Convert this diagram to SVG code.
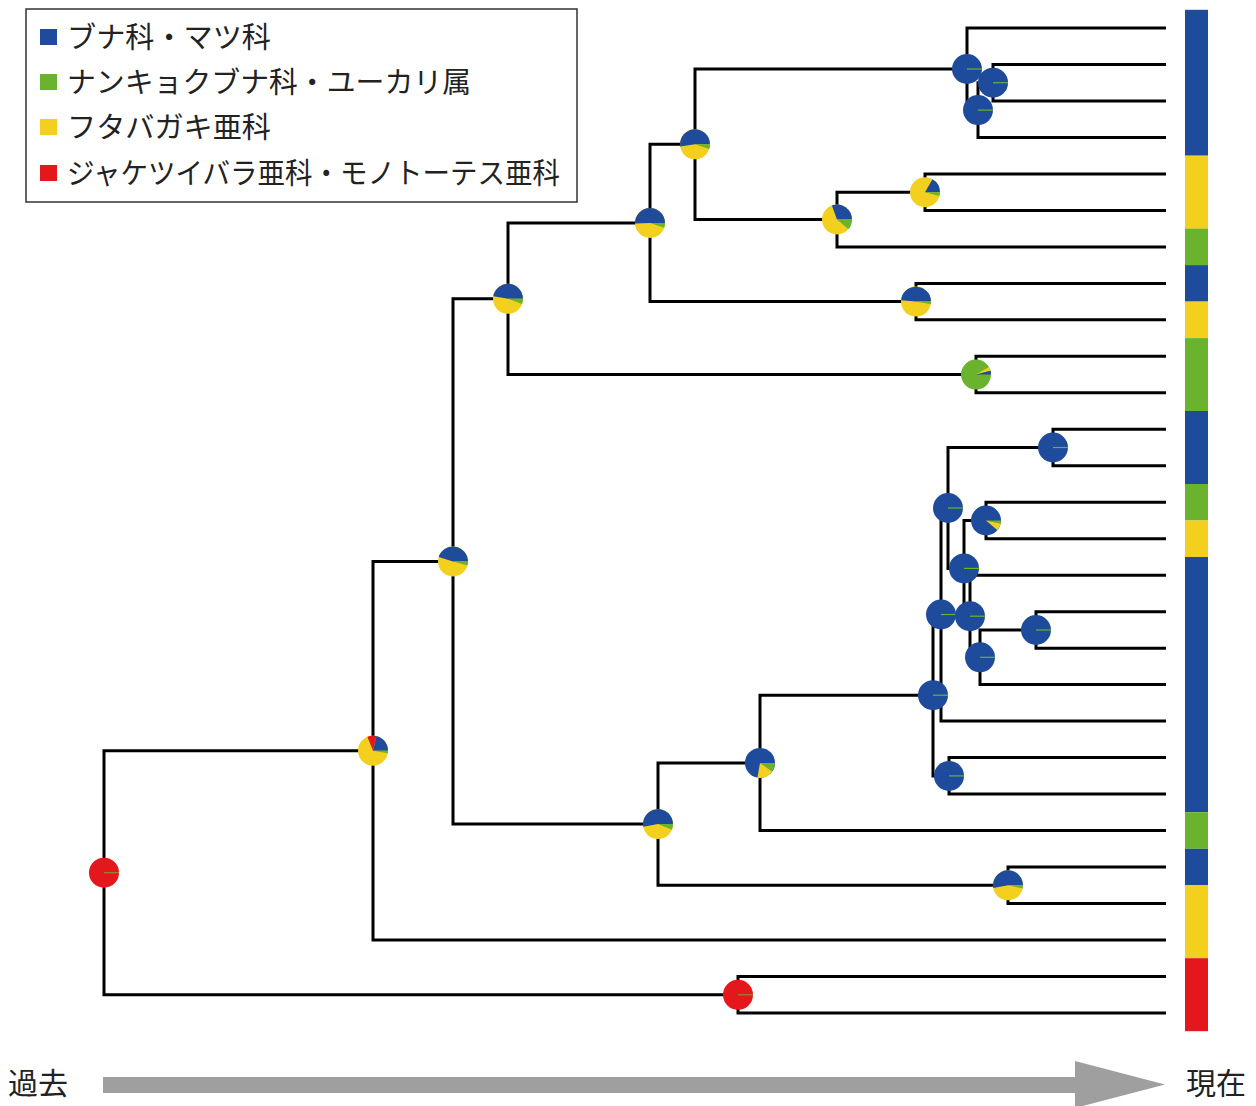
<svg xmlns="http://www.w3.org/2000/svg" xmlns:xlink="http://www.w3.org/1999/xlink" width="1256" height="1106" viewBox="0 0 1256 1106">
<style>
.br{fill:none;stroke:#000;stroke-width:3;stroke-linejoin:miter}
.lg{font-family:"Noto Sans CJK JP","Noto Sans",sans-serif;font-size:29px;fill:#222}
.ax{font-family:"Noto Sans CJK JP","Noto Sans",sans-serif;font-size:30px;fill:#222}
.b{fill:#1f4b9d}.g{fill:#6ab42d}.y{fill:#f3cf1e}.r{fill:#e3171c}
</style>
<defs>
<g id="pb"><circle r="15" class="b"/><line x1="0" y1="0" x2="15" y2="0" stroke="#6ab42d" stroke-width="1.2"/></g>
<g id="pr"><circle r="15" class="r"/><line x1="0" y1="0" x2="15" y2="0" stroke="#8c8f2a" stroke-width="1.2"/></g>
</defs>
<rect width="1256" height="1106" fill="#fff"/>

<g id="legend">
<rect x="26" y="9" width="551" height="193" fill="#fff" stroke="#333" stroke-width="1.5"/>
<rect x="40" y="29" width="17" height="16" class="b"/>
<text x="67" y="48" class="lg" textLength="204" lengthAdjust="spacingAndGlyphs">ブナ科・マツ科</text>
<rect x="40" y="74" width="17" height="16" class="g"/>
<text x="67" y="93" class="lg" textLength="404" lengthAdjust="spacingAndGlyphs">ナンキョクブナ科・ユーカリ属</text>
<rect x="40" y="119" width="17" height="16" class="y"/>
<text x="67" y="138" class="lg" textLength="204" lengthAdjust="spacingAndGlyphs">フタバガキ亜科</text>
<rect x="40" y="165" width="17" height="16" class="r"/>
<text x="67" y="184" class="lg" textLength="493" lengthAdjust="spacingAndGlyphs">ジャケツイバラ亜科・モノトーテス亜科</text>
</g>

<g id="colorbar">
<rect x="1185" y="9.8" width="23" height="145.9" class="b"/>
<rect x="1185" y="155.7" width="23" height="73" class="y"/>
<rect x="1185" y="228.6" width="23" height="36.5" class="g"/>
<rect x="1185" y="265.1" width="23" height="36.5" class="b"/>
<rect x="1185" y="301.6" width="23" height="36.5" class="y"/>
<rect x="1185" y="338.1" width="23" height="73" class="g"/>
<rect x="1185" y="411" width="23" height="73" class="b"/>
<rect x="1185" y="484" width="23" height="36.5" class="g"/>
<rect x="1185" y="520.5" width="23" height="36.5" class="y"/>
<rect x="1185" y="557" width="23" height="255.3" class="b"/>
<rect x="1185" y="812.3" width="23" height="36.5" class="g"/>
<rect x="1185" y="848.8" width="23" height="36.5" class="b"/>
<rect x="1185" y="885.3" width="23" height="73" class="y"/>
<rect x="1185" y="958.2" width="23" height="73" class="r"/>
</g>

<g id="connectors">
<path class="br" d="M1166,64.5 H993 V101 H1166"/>
<path class="br" d="M993,82.7 H978 V137.4 H1166"/>
<path class="br" d="M1166,28 H967 V110.1 H978"/>
<path class="br" d="M1166,173.9 H925 V210.4 H1166"/>
<path class="br" d="M925,192.2 H837 V246.9 H1166"/>
<path class="br" d="M967,69 H695 V219.5 H837"/>
<path class="br" d="M1166,283.4 H916 V319.8 H1166"/>
<path class="br" d="M695,144.3 H650 V301.6 H916"/>
<path class="br" d="M1166,356.3 H976 V392.8 H1166"/>
<path class="br" d="M650,223 H508 V374.6 H976"/>
<path class="br" d="M1166,429.3 H1053 V465.8 H1166"/>
<path class="br" d="M1166,502.2 H986 V538.7 H1166"/>
<path class="br" d="M1166,611.7 H1036 V648.2 H1166"/>
<path class="br" d="M1036,630 H980 V684.6 H1166"/>
<path class="br" d="M1166,575.2 H970 V657.3 H980"/>
<path class="br" d="M986,520.5 H964 V616.2 H970"/>
<path class="br" d="M1053,447.5 H948 V568.4 H964"/>
<path class="br" d="M948,508 H941 V721.1 H1166"/>
<path class="br" d="M1166,757.6 H949 V794.1 H1166"/>
<path class="br" d="M941,614.5 H933 V775.9 H949"/>
<path class="br" d="M933,695.2 H760 V830.6 H1166"/>
<path class="br" d="M1166,867 H1008 V903.5 H1166"/>
<path class="br" d="M760,762.9 H658 V885.3 H1008"/>
<path class="br" d="M508,298.8 H453 V824.1 H658"/>
<path class="br" d="M453,561.5 H373 V940 H1166"/>
<path class="br" d="M1166,976.5 H738 V1013 H1166"/>
<path class="br" d="M373,750.7 H104 V994.8 H738"/>
</g>

<g id="node-root" transform="translate(104,872.7)"><use xlink:href="#pr" href="#pr"/></g>
<g id="node-z" transform="translate(738,994.8)"><use xlink:href="#pr" href="#pr"/></g>
<g id="node-y" transform="translate(373,750.7)">
<circle r="15" class="y"/>
<path class="r" d="M0,0 L-5.62,-13.91 A15,15 0 0 1 3.37,-14.62 Z"/>
<path class="b" d="M0,0 L3.37,-14.62 A15,15 0 0 1 15,0 Z"/>
<path class="g" d="M0,0 L15,0 A15,15 0 0 1 14.77,2.6 Z"/>
</g>
<g id="node-x" transform="translate(453,561.5)">
<circle r="15" class="y"/>
<path class="b" d="M0,0 L-14.34,-4.39 A15,15 0 0 1 15,0 Z"/>
<path class="g" d="M0,0 L15,0 A15,15 0 0 1 14.49,3.88 Z"/>
</g>
<g id="node-t" transform="translate(508,298.8)">
<circle r="15" class="y"/>
<path class="b" d="M0,0 L-14.77,-2.6 A15,15 0 0 1 15,0 Z"/>
<path class="g" d="M0,0 L15,0 A15,15 0 0 1 14.1,5.13 Z"/>
</g>
<g id="node-r" transform="translate(650,223)">
<circle r="15" class="y"/>
<path class="b" d="M0,0 L-14.99,0.52 A15,15 0 1 1 15,0 Z"/>
<path class="g" d="M0,0 L15,0 A15,15 0 0 1 14.27,4.64 Z"/>
</g>
<g id="node-p" transform="translate(695,144.3)">
<circle r="15" class="y"/>
<path class="b" d="M0,0 L-14.85,2.09 A15,15 0 1 1 15,0 Z"/>
<path class="g" d="M0,0 L15,0 A15,15 0 0 1 14.27,4.64 Z"/>
</g>
<g id="node-o" transform="translate(837,219.5)">
<circle r="15" class="y"/>
<path class="b" d="M0,0 L-5.13,-14.1 A15,15 0 0 1 15,0 Z"/>
<path class="g" d="M0,0 L15,0 A15,15 0 0 1 11.49,9.64 Z"/>
</g>
<g id="node-n" transform="translate(925,192.2)">
<circle r="15" class="y"/>
<path class="b" d="M0,0 L7.5,-12.99 A15,15 0 0 1 15,0 Z"/>
<path class="g" d="M0,0 L15,0 A15,15 0 0 1 14.49,3.88 Z"/>
</g>
<g id="node-q" transform="translate(916,301.6)">
<circle r="15" class="y"/>
<path class="b" d="M0,0 L-14.94,-1.31 A15,15 0 0 1 15,0 Z"/>
<path class="g" d="M0,0 L15,0 A15,15 0 0 1 14.77,2.6 Z"/>
</g>
<g id="node-s" transform="translate(976,374.6)">
<circle r="15" class="g"/>
<path class="y" d="M0,0 L12.99,-7.5 A15,15 0 0 1 14.49,-3.88 Z"/>
<path class="b" d="M0,0 L14.49,-3.88 A15,15 0 0 1 15,0 Z"/>
</g>
<g id="node-a" transform="translate(967,69)"><use xlink:href="#pb" href="#pb"/></g>
<g id="node-c" transform="translate(993,82.7)"><use xlink:href="#pb" href="#pb"/></g>
<g id="node-b" transform="translate(978,110.1)"><use xlink:href="#pb" href="#pb"/></g>
<g id="node-m" transform="translate(1053,447.5)"><use xlink:href="#pb" href="#pb"/></g>
<g id="node-l" transform="translate(948,508)"><use xlink:href="#pb" href="#pb"/></g>
<g id="node-e" transform="translate(986,520.5)">
<circle r="15" class="b"/>
<path class="g" d="M0,0 L15,0 A15,15 0 0 1 14.67,3.12 Z"/>
<path class="y" d="M0,0 L14.67,3.12 A15,15 0 0 1 11.49,9.64 Z"/>
</g>
<g id="node-d" transform="translate(964,568.4)"><use xlink:href="#pb" href="#pb"/></g>
<g id="node-j" transform="translate(941,614.5)"><use xlink:href="#pb" href="#pb"/></g>
<g id="node-f" transform="translate(970,616.2)"><use xlink:href="#pb" href="#pb"/></g>
<g id="node-h" transform="translate(1036,630)"><use xlink:href="#pb" href="#pb"/></g>
<g id="node-g" transform="translate(980,657.3)"><use xlink:href="#pb" href="#pb"/></g>
<g id="node-i" transform="translate(933,695.2)"><use xlink:href="#pb" href="#pb"/></g>
<g id="node-k" transform="translate(949,775.9)"><use xlink:href="#pb" href="#pb"/></g>
<g id="node-u" transform="translate(760,762.9)">
<circle r="15" class="b"/>
<path class="g" d="M0,0 L15,0 A15,15 0 0 1 12.29,8.6 Z"/>
<path class="y" d="M0,0 L12.29,8.6 A15,15 0 0 1 -2.6,14.77 Z"/>
</g>
<g id="node-w" transform="translate(658,824.1)">
<circle r="15" class="y"/>
<path class="b" d="M0,0 L-14.77,2.6 A15,15 0 1 1 15,0 Z"/>
<path class="g" d="M0,0 L15,0 A15,15 0 0 1 13.91,5.62 Z"/>
</g>
<g id="node-v" transform="translate(1008,885.3)">
<circle r="15" class="y"/>
<path class="b" d="M0,0 L-14.77,2.6 A15,15 0 1 1 15,0 Z"/>
<path class="g" d="M0,0 L15,0 A15,15 0 0 1 14.67,3.12 Z"/>
</g>

<g id="time-axis">
<polygon points="103,1077 1075,1077 1075,1061 1165,1084.5 1075,1108 1075,1093 103,1093" fill="#9e9f9e"/>
<text x="8" y="1094" class="ax" textLength="60" lengthAdjust="spacingAndGlyphs">過去</text>
<text x="1186" y="1094" class="ax" textLength="60" lengthAdjust="spacingAndGlyphs">現在</text>
</g>
</svg>
